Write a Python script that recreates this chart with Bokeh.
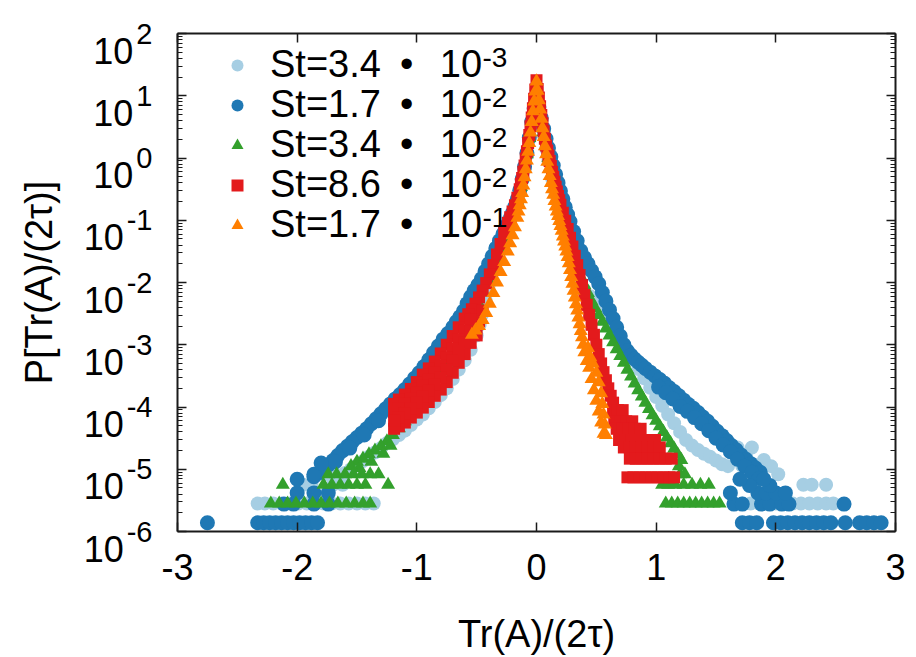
import numpy as np
from bokeh.plotting import figure
from bokeh.layouts import row
from bokeh.models import (LinearAxis, LogAxis, FixedTicker, Label, Legend, LegendItem,
                          CustomJSTickFormatter)
from bokeh.core.properties import value
from bokeh.embed import file_html
from bokeh.resources import INLINE

FONT = "Liberation Sans"

# ---------------- data (x, log10 P) ----------------
series_names = ["St=3.4", "St=1.7", "St=3.4", "St=8.6", "St=1.7"]
series_exponents = ["-3", "-2", "-2", "-2", "-1"]

x_ticks = [-3, -2, -1, 0, 1, 2, 3]
y_tick_exponents = [2, 1, 0, -1, -2, -3, -4, -5, -6]

# St = 3.4e-3
lightblue_pts = [
    (0.00, 1.10), (-0.02, 0.85), (-0.04, 0.60), (-0.06, 0.30), (-0.08, 0.05), (-0.10, -0.18),
    (-0.13, -0.45), (-0.16, -0.68), (-0.19, -0.85), (-0.22, -1.00), (-0.25, -1.14), (-0.28, -1.30),
    (-0.31, -1.47), (-0.34, -1.65), (-0.37, -1.85), (-0.40, -2.05), (-0.425, -2.28), (-0.45, -2.50),
    (-0.475, -2.68), (-0.50, -2.85), (-0.55, -3.08), (-0.60, -3.25), (-0.65, -3.40), (-0.70, -3.55),
    (-0.75, -3.70), (-0.80, -3.81), (-0.85, -3.92), (-0.90, -4.02), (-0.95, -4.12), (-1.00, -4.20),
    (-1.05, -4.29), (-1.10, -4.38), (-1.15, -4.45), (-1.20, -4.52), (-1.25, -4.58), (-1.30, -4.66),
    (-1.35, -4.73), (-1.40, -4.80), (-1.45, -4.87), (-1.50, -4.94), (-1.55, -5.00), (-1.60, -5.06),
    (-1.65, -5.13),
    (-2.33, -5.55), (-2.27, -5.55), (-2.20, -5.55), (-2.13, -5.55), (-2.06, -5.55), (-1.99, -5.55),
    (-1.92, -5.55), (-1.85, -5.55), (-1.78, -5.55), (-1.71, -5.55), (-1.64, -5.55), (-1.57, -5.55),
    (-1.50, -5.55), (-1.43, -5.55), (-1.36, -5.55),
    (-1.95, -5.25), (-1.88, -5.25), (-1.70, -5.25), (-1.62, -5.25), (-1.75, -5.08), (-1.68, -5.08),
    (0.02, 0.85), (0.04, 0.60), (0.06, 0.37), (0.08, 0.15), (0.10, -0.05), (0.13, -0.33),
    (0.16, -0.58), (0.19, -0.80), (0.22, -1.01), (0.25, -1.21), (0.28, -1.41), (0.31, -1.60),
    (0.34, -1.80), (0.37, -2.00), (0.40, -2.12), (0.45, -2.22), (0.50, -2.35), (0.55, -2.48),
    (0.60, -2.63), (0.65, -2.78), (0.70, -2.94), (0.75, -3.09), (0.80, -3.24), (0.85, -3.39),
    (0.90, -3.54), (0.95, -3.69), (1.00, -3.84), (1.05, -3.98), (1.10, -4.12), (1.15, -4.26),
    (1.20, -4.40), (1.25, -4.53), (1.30, -4.62), (1.35, -4.69), (1.40, -4.75), (1.45, -4.80),
    (1.50, -4.86), (1.55, -4.92),
    (1.62, -4.71), (1.68, -4.65), (1.75, -4.78), (1.80, -4.65), (1.90, -4.85), (1.96, -4.95),
    (2.02, -5.08), (1.72, -4.95), (1.85, -5.08), (1.60, -4.95),
    (2.23, -5.25), (2.30, -5.25), (2.42, -5.25),
    (1.65, -5.55), (1.72, -5.55), (1.79, -5.55), (1.86, -5.55), (1.93, -5.55), (2.00, -5.55),
    (2.07, -5.55), (2.14, -5.55), (2.21, -5.55), (2.28, -5.55), (2.35, -5.55), (2.42, -5.55),
    (2.48, -5.55),
]

# St = 1.7e-2
blue_pts = [
    (0.00, 1.00), (-0.02, 0.80), (-0.04, 0.58), (-0.06, 0.33), (-0.08, 0.08), (-0.10, -0.14),
    (-0.12, -0.34), (-0.14, -0.52), (-0.16, -0.66), (-0.18, -0.78), (-0.20, -0.88), (-0.22, -0.97),
    (-0.24, -1.06), (-0.26, -1.14), (-0.28, -1.22), (-0.31, -1.33), (-0.34, -1.45), (-0.37, -1.58),
    (-0.40, -1.70), (-0.43, -1.82), (-0.46, -1.94), (-0.49, -2.04), (-0.52, -2.13), (-0.55, -2.23),
    (-0.58, -2.34), (-0.61, -2.46), (-0.64, -2.55), (-0.67, -2.63), (-0.70, -2.72), (-0.74, -2.82),
    (-0.78, -2.91), (-0.82, -3.02), (-0.86, -3.13), (-0.90, -3.24), (-0.94, -3.35), (-0.98, -3.45),
    (-1.02, -3.54), (-1.06, -3.63), (-1.10, -3.72), (-1.14, -3.80), (-1.18, -3.87), (-1.22, -3.95),
    (-1.26, -4.03), (-1.30, -4.11), (-1.34, -4.19), (-1.38, -4.27), (-1.42, -4.35), (-1.46, -4.42),
    (-1.50, -4.49), (-1.54, -4.56), (-1.58, -4.63), (-1.62, -4.70), (-1.66, -4.78), (-1.70, -4.86),
    (-1.74, -4.93), (-1.78, -5.00), (-1.82, -5.06), (-1.86, -5.12),
    (-1.20, -4.00), (-1.32, -4.22), (-1.44, -4.45), (-1.56, -4.66), (-1.68, -4.88),
    (-2.75, -5.86), (-2.33, -5.86), (-2.28, -5.86), (-2.23, -5.86), (-2.18, -5.86), (-2.13, -5.86),
    (-2.08, -5.86), (-2.03, -5.86), (-1.98, -5.86), (-1.93, -5.86), (-1.88, -5.86), (-1.83, -5.86),
    (-2.11, -5.56), (-2.03, -5.56), (-1.86, -5.56), (-1.74, -5.56),
    (-2.00, -5.38), (-1.86, -5.38), (-1.74, -5.38), (-2.00, -5.16), (-1.86, -5.08), (-1.80, -4.90),
    (0.02, 0.82), (0.04, 0.64), (0.06, 0.47), (0.08, 0.31), (0.10, 0.16), (0.12, 0.02),
    (0.14, -0.12), (0.16, -0.26), (0.18, -0.40), (0.20, -0.53), (0.22, -0.66), (0.24, -0.79),
    (0.26, -0.91), (0.28, -1.02), (0.31, -1.18), (0.34, -1.33), (0.37, -1.49), (0.40, -1.60),
    (0.43, -1.70), (0.46, -1.81), (0.49, -1.91), (0.52, -2.02), (0.55, -2.16), (0.58, -2.30),
    (0.61, -2.44), (0.64, -2.58), (0.67, -2.72), (0.70, -2.86), (0.73, -3.00), (0.76, -3.10),
    (0.79, -3.17), (0.82, -3.23), (0.85, -3.28), (0.88, -3.33), (0.91, -3.38), (0.95, -3.44),
    (0.99, -3.50), (1.03, -3.56), (1.07, -3.62), (1.11, -3.69), (1.15, -3.75), (1.19, -3.82),
    (1.23, -3.89), (1.27, -3.96), (1.31, -4.02), (1.35, -4.09), (1.39, -4.16), (1.43, -4.23),
    (1.47, -4.31), (1.51, -4.39), (1.55, -4.46), (1.59, -4.54), (1.63, -4.62), (1.67, -4.69),
    (1.71, -4.77), (1.75, -4.84), (1.79, -4.91), (1.83, -4.98), (1.87, -5.05),
    (1.02, -3.68), (1.08, -3.77), (1.14, -3.87), (1.20, -3.99), (1.26, -4.07), (1.32, -4.17),
    (1.38, -4.27), (1.44, -4.38), (1.50, -4.50), (1.56, -4.61), (1.62, -4.72), (1.68, -4.84),
    (1.74, -4.95), (1.80, -5.05), (1.86, -5.15),
    (1.72, -5.86), (1.78, -5.86), (1.84, -5.86), (1.98, -5.86), (2.04, -5.86), (2.10, -5.86),
    (2.16, -5.86), (2.22, -5.86), (2.28, -5.86), (2.34, -5.86), (2.40, -5.86), (2.46, -5.86),
    (2.58, -5.86), (2.70, -5.86), (2.76, -5.86), (2.82, -5.86), (2.88, -5.86),
    (1.65, -5.56), (1.72, -5.56), (1.88, -5.56), (1.95, -5.56), (2.05, -5.56), (2.11, -5.56),
    (2.57, -5.56),
    (1.62, -5.38), (1.85, -5.38), (1.92, -5.38), (2.00, -5.38), (2.08, -5.38),
    (1.78, -5.26), (1.95, -5.26), (1.70, -5.16), (1.90, -5.16),
]

# St = 3.4e-2
green_pts = [
    (0.00, 1.15), (-0.02, 0.90), (-0.04, 0.60), (-0.06, 0.32), (-0.08, 0.06), (-0.10, -0.17),
    (-0.13, -0.46), (-0.16, -0.69), (-0.19, -0.85), (-0.22, -1.00), (-0.25, -1.12), (-0.28, -1.28),
    (-0.31, -1.45), (-0.34, -1.63), (-0.37, -1.80), (-0.40, -1.96), (-0.44, -2.16), (-0.48, -2.35),
    (-0.52, -2.52), (-0.56, -2.68), (-0.60, -2.82), (-0.65, -2.99), (-0.70, -3.15), (-0.75, -3.31),
    (-0.80, -3.46), (-0.85, -3.60), (-0.90, -3.74), (-0.95, -3.87), (-1.00, -3.99), (-1.05, -4.11),
    (-1.10, -4.23), (-1.15, -4.34), (-1.20, -4.45), (-1.25, -4.55), (-1.30, -4.63), (-1.35, -4.70),
    (-1.40, -4.76), (-1.45, -4.83), (-1.50, -4.88),
    (-1.22, -4.62), (-1.28, -4.75), (-1.38, -4.88), (-1.48, -4.98), (-1.55, -4.95),
    (-1.74, -5.08), (-1.67, -5.08), (-1.60, -5.08), (-1.53, -5.08), (-1.46, -5.08), (-1.39, -5.08),
    (-1.32, -5.08),
    (-2.12, -5.25), (-1.78, -5.25), (-1.71, -5.25), (-1.64, -5.25), (-1.57, -5.25), (-1.50, -5.25),
    (-1.43, -5.25), (-1.24, -5.25),
    (-2.22, -5.55), (-2.15, -5.55), (-2.08, -5.55), (-2.01, -5.55), (-1.94, -5.55), (-1.87, -5.55),
    (-1.80, -5.55), (-1.73, -5.55), (-1.66, -5.55), (-1.59, -5.55), (-1.52, -5.55), (-1.45, -5.55),
    (-1.39, -5.55),
    (0.02, 0.90), (0.04, 0.65), (0.06, 0.42), (0.08, 0.20), (0.10, 0.00), (0.13, -0.28),
    (0.16, -0.55), (0.19, -0.80), (0.22, -1.02), (0.25, -1.22), (0.28, -1.42), (0.31, -1.60),
    (0.34, -1.76), (0.37, -1.91), (0.40, -2.04), (0.43, -2.17), (0.46, -2.30), (0.49, -2.41),
    (0.52, -2.52), (0.55, -2.63), (0.58, -2.74), (0.61, -2.85), (0.64, -2.96), (0.67, -3.07),
    (0.70, -3.18), (0.73, -3.29), (0.76, -3.40), (0.79, -3.51), (0.82, -3.62), (0.85, -3.73),
    (0.88, -3.83), (0.91, -3.93), (0.94, -4.03), (0.97, -4.13), (1.00, -4.22), (1.03, -4.31),
    (1.06, -4.40), (1.09, -4.49), (1.12, -4.58), (1.15, -4.67), (1.18, -4.76), (1.21, -4.85),
    (1.20, -5.08), (1.24, -5.08), (1.19, -4.95),
    (1.05, -5.25), (1.10, -5.25), (1.16, -5.25), (1.23, -5.25), (1.30, -5.25), (1.37, -5.25),
    (1.44, -5.25),
    (1.08, -5.55), (1.13, -5.55), (1.18, -5.55), (1.23, -5.55), (1.28, -5.55), (1.33, -5.55),
    (1.38, -5.55), (1.43, -5.55), (1.48, -5.55), (1.53, -5.55),
]

# St = 8.6e-2
red_pts = [
    (0.00, 1.25), (-0.01, 1.10), (-0.02, 0.95), (-0.03, 0.80), (-0.04, 0.65), (-0.05, 0.51),
    (-0.06, 0.37), (-0.07, 0.24), (-0.08, 0.11), (-0.09, -0.01), (-0.10, -0.12), (-0.11, -0.22),
    (-0.12, -0.32), (-0.13, -0.41), (-0.14, -0.50), (-0.16, -0.64), (-0.18, -0.76), (-0.20, -0.86),
    (-0.22, -0.95), (-0.24, -1.04), (-0.27, -1.20), (-0.30, -1.38), (-0.33, -1.55), (-0.36, -1.72),
    (-0.39, -1.87), (-0.42, -2.01), (-0.45, -2.13), (-0.48, -2.24), (-0.51, -2.34), (-0.54, -2.43),
    (-0.57, -2.51), (-0.60, -2.58), (-0.65, -2.72), (-0.70, -2.86), (-0.75, -3.00), (-0.80, -3.14),
    (-0.85, -3.27), (-0.90, -3.38), (-0.95, -3.48), (-1.00, -3.60), (-1.05, -3.71), (-1.10, -3.80),
    (-1.15, -3.88), (-1.19, -3.95),
    (-0.45, -2.45), (-0.48, -2.62), (-0.50, -2.85), (-0.55, -2.97), (-0.60, -3.15), (-0.65, -3.29),
    (-0.70, -3.45), (-0.75, -3.60), (-0.80, -3.72), (-0.85, -3.82), (-0.90, -3.92), (-0.95, -4.01),
    (-1.00, -4.09), (-1.05, -4.17), (-1.10, -4.25), (-1.15, -4.31), (-1.19, -4.35),
    (-0.55, -2.60), (-0.60, -2.77), (-0.65, -2.91), (-0.70, -3.06), (-0.75, -3.20), (-0.80, -3.33),
    (-0.85, -3.45), (-0.90, -3.56), (-0.95, -3.66), (-1.00, -3.76), (-1.05, -3.86), (-1.10, -3.95),
    (-1.15, -4.02), (-1.19, -4.08),
    (-0.55, -2.79), (-0.60, -2.96), (-0.65, -3.10), (-0.70, -3.25), (-0.75, -3.40), (-0.80, -3.53),
    (-0.85, -3.64), (-0.90, -3.74), (-0.95, -3.83), (-1.00, -3.93), (-1.05, -4.02), (-1.10, -4.10),
    (-1.15, -4.17), (-1.19, -4.22),
    (0.01, 1.11), (0.02, 0.97), (0.03, 0.83), (0.04, 0.69), (0.05, 0.56), (0.06, 0.43),
    (0.07, 0.31), (0.08, 0.20), (0.09, 0.12), (0.10, 0.04), (0.11, -0.05), (0.12, -0.13),
    (0.13, -0.22), (0.14, -0.30), (0.15, -0.38), (0.16, -0.46), (0.17, -0.54), (0.18, -0.61),
    (0.19, -0.68), (0.20, -0.75), (0.22, -0.88), (0.24, -1.01), (0.26, -1.14), (0.28, -1.28),
    (0.30, -1.42), (0.32, -1.57), (0.34, -1.72), (0.36, -1.88), (0.38, -2.04), (0.40, -2.20),
    (0.42, -2.36), (0.44, -2.52), (0.46, -2.68), (0.48, -2.84), (0.50, -3.00), (0.52, -3.15),
    (0.54, -3.30), (0.56, -3.44), (0.58, -3.57), (0.60, -3.70), (0.62, -3.82), (0.64, -3.93),
    (0.64, -4.05), (0.68, -4.05), (0.72, -4.05),
    (0.65, -4.23), (0.70, -4.23), (0.75, -4.23), (0.80, -4.23),
    (0.67, -4.35), (0.72, -4.35), (0.77, -4.35), (0.82, -4.35), (0.87, -4.35),
    (0.69, -4.53), (0.74, -4.53), (0.79, -4.53), (0.84, -4.53), (0.89, -4.53), (0.94, -4.53),
    (0.99, -4.53),
    (0.73, -4.65), (0.78, -4.65), (0.83, -4.65), (0.88, -4.65), (0.93, -4.65), (0.98, -4.65),
    (1.03, -4.65),
    (0.78, -4.83), (0.83, -4.83), (0.88, -4.83), (0.93, -4.83), (0.98, -4.83), (1.03, -4.83),
    (1.08, -4.83), (1.13, -4.83),
    (0.76, -5.13), (0.81, -5.13), (0.86, -5.13), (0.91, -5.13), (0.96, -5.13), (1.01, -5.13),
    (1.06, -5.13), (1.11, -5.13), (1.15, -5.13),
]

# St = 1.7e-1
orange_pts = [
    (0.00, 1.23), (-0.01, 1.07), (-0.02, 0.91), (-0.03, 0.75), (-0.04, 0.58), (-0.05, 0.41),
    (-0.06, 0.24), (-0.07, 0.10), (-0.08, -0.04), (-0.09, -0.18), (-0.10, -0.31), (-0.11, -0.44),
    (-0.12, -0.56), (-0.13, -0.66), (-0.14, -0.76), (-0.15, -0.86), (-0.16, -0.96), (-0.18, -1.11),
    (-0.20, -1.24), (-0.22, -1.37), (-0.24, -1.50), (-0.27, -1.67), (-0.30, -1.83), (-0.33, -2.00),
    (-0.36, -2.17), (-0.39, -2.34), (-0.42, -2.49), (-0.45, -2.60), (-0.48, -2.70), (-0.51, -2.77),
    (-0.54, -2.84),
    (0.01, 1.08), (0.02, 0.93), (0.03, 0.78), (0.04, 0.63), (0.05, 0.48), (0.06, 0.34),
    (0.07, 0.19), (0.08, 0.06), (0.09, -0.06), (0.10, -0.18), (0.11, -0.29), (0.12, -0.40),
    (0.13, -0.50), (0.14, -0.59), (0.15, -0.69), (0.16, -0.78), (0.17, -0.86), (0.18, -0.93),
    (0.19, -1.01), (0.20, -1.09), (0.21, -1.17), (0.22, -1.26), (0.23, -1.34), (0.24, -1.42),
    (0.25, -1.50), (0.26, -1.59), (0.27, -1.69), (0.28, -1.80), (0.29, -1.91), (0.30, -2.02),
    (0.31, -2.13), (0.32, -2.24), (0.33, -2.35), (0.34, -2.45), (0.35, -2.56), (0.36, -2.67),
    (0.37, -2.78), (0.38, -2.88), (0.39, -3.00), (0.40, -3.12), (0.42, -3.26), (0.44, -3.37),
    (0.46, -3.55), (0.48, -3.73), (0.50, -3.90), (0.52, -4.07), (0.54, -4.25), (0.56, -4.43),
    (0.43, -3.05), (0.45, -3.20), (0.47, -3.30), (0.50, -3.45), (0.52, -3.60), (0.54, -3.78),
    (0.55, -3.95), (0.56, -4.12), (0.57, -4.28), (0.58, -4.45),
]

all_points = [lightblue_pts, blue_pts, green_pts, red_pts, orange_pts]

# ---------------- styles / geometry ----------------
colors = ["#a6cee3", "#1f78b4", "#33a02c", "#e31a1c", "#ff7f00"]
markers = ["circle", "circle", "triangle", "square", "triangle"]
sizes = [14, 15, 14, 12, 14]

W, H = 916, 657
LEFT_W = 160            # width of the strip holding y tick labels and y title
FRAME_LEFT = 177        # px of frame left edge in the page
FRAME_TOP, FRAME_BOTTOM = 33, 531
Y_LO, Y_HI = -6, 2      # log10 of y range

p = figure(width=W - LEFT_W, height=H, x_range=(-3, 3), y_range=(10.0 ** Y_LO, 10.0 ** Y_HI),
           y_axis_type="log", output_backend="svg", toolbar_location=None,
           min_border_left=FRAME_LEFT - LEFT_W, min_border_right=21,
           min_border_top=FRAME_TOP, min_border_bottom=H - FRAME_BOTTOM,
           background_fill_color="white", border_fill_color="white")
p.frame_align = False
p.grid.visible = False
p.outline_line_color = None

renderers = []
for pts, c, m, s in zip(all_points, colors, markers, sizes):
    xs = [a for a, b in pts]
    ys = [10.0 ** b for a, b in pts]
    r = p.scatter(x=xs, y=ys, marker=m, size=s, fill_color=c, line_color=None)
    renderers.append(r)

major_y = [10.0 ** e for e in y_tick_exponents]
minor_y = [m * 10.0 ** e for e in range(Y_LO, Y_HI) for m in range(2, 10)]


def style_axis(ax):
    ax.axis_line_color = "#1a1a1a"
    ax.axis_line_width = 2
    ax.major_tick_line_color = "#1a1a1a"
    ax.major_tick_line_width = 1.5
    ax.minor_tick_line_color = "#1a1a1a"
    ax.minor_tick_line_width = 1.2
    ax.major_tick_in = 9
    ax.major_tick_out = 0
    ax.minor_tick_in = 5
    ax.minor_tick_out = 0


xa = p.xaxis[0]
xa.ticker = FixedTicker(ticks=x_ticks)
xa.formatter = CustomJSTickFormatter(code="return tick.toFixed(0)")
style_axis(xa)
xa.minor_tick_line_color = None
xa.major_label_text_font = FONT
xa.major_label_text_font_size = "36px"
xa.major_label_text_color = "black"
xa.major_label_standoff = 22
xa.axis_label = "Tr(A)/(2\u03c4)"
xa.axis_label_text_font = FONT
xa.axis_label_text_font_size = "38px"
xa.axis_label_text_font_style = "normal"
xa.axis_label_text_color = "black"
xa.axis_label_standoff = 30

ya = p.yaxis[0]
ya.ticker = FixedTicker(ticks=major_y, minor_ticks=minor_y)
ya.formatter = CustomJSTickFormatter(code="return ''")
style_axis(ya)
ya.major_label_standoff = 0

top = LinearAxis(ticker=FixedTicker(ticks=x_ticks), formatter=CustomJSTickFormatter(code="return ''"))
style_axis(top)
top.minor_tick_line_color = None
top.major_label_standoff = 0
p.add_layout(top, "above")

right = LogAxis(ticker=FixedTicker(ticks=major_y, minor_ticks=minor_y),
                formatter=CustomJSTickFormatter(code="return ''"))
style_axis(right)
right.major_label_standoff = 0
p.add_layout(right, "right")

# legend: one entry per legend box so rows sit at fixed positions
for k, (r, name, ex) in enumerate(zip(renderers, series_names, series_exponents)):
    leg = Legend(items=[LegendItem(label=name + "\u2002\u2022\u2002\u200910", renderers=[r])],
                 location=(45, 445 - 40 * k), padding=0, margin=0, spacing=0,
                 glyph_width=30, glyph_height=42, label_standoff=18,
                 label_text_font=FONT, label_text_font_size="38px",
                 label_text_color="black", border_line_color=None,
                 background_fill_alpha=0)
    p.add_layout(leg)
    p.add_layout(Label(x=305, y=474 - 40 * k, x_units="screen", y_units="screen",
                       text=ex, text_align="left", text_baseline="alphabetic",
                       text_font=FONT, text_font_size="28px", text_color="black"))

# ---------------- left strip: y tick labels "10^e" and y title on the same log scale ----------------
px_per_dec = (FRAME_BOTTOM - FRAME_TOP) / (Y_HI - Y_LO)
strip_hi = Y_HI + FRAME_TOP / px_per_dec
strip_lo = Y_LO - (H - FRAME_BOTTOM) / px_per_dec
lf = figure(width=LEFT_W, height=H, x_range=(0, LEFT_W), y_range=(10.0 ** strip_lo, 10.0 ** strip_hi),
            y_axis_type="log", x_axis_location=None, y_axis_location=None,
            output_backend="svg", toolbar_location=None,
            min_border_left=0, min_border_right=0, min_border_top=0, min_border_bottom=0,
            background_fill_color="white", border_fill_color="white")
lf.frame_align = False
lf.grid.visible = False
lf.outline_line_color = None

EXP_RIGHT = 152
SUP_PX = 29
exp_text = [str(e) for e in y_tick_exponents]
exp_width = [SUP_PX * (0.556 * sum(ch.isdigit() for ch in s) + 0.333 * s.count("-")) for s in exp_text]
tick_vals = [10.0 ** e for e in y_tick_exponents]

lf.text(x=[EXP_RIGHT - w - 3 for w in exp_width], y=tick_vals, text=["10"] * len(tick_vals),
        text_align="right", text_baseline="alphabetic", y_offset=17,
        text_font=value(FONT), text_font_size="36px", text_color="black")
lf.text(x=[EXP_RIGHT] * len(tick_vals), y=tick_vals, text=exp_text,
        text_align="right", text_baseline="alphabetic", y_offset=0,
        text_font=value(FONT), text_font_size="%dpx" % SUP_PX, text_color="black")
lf.text(x=[38], y=[10.0 ** ((Y_HI + Y_LO) / 2)], text=["P[Tr(A)/(2\u03c4)]"], angle=np.pi / 2,
        text_align="center", text_baseline="middle",
        text_font=value(FONT), text_font_size="38px", text_color="black")

layout = row(lf, p)
open("out.html", "w").write(file_html(layout, INLINE))
